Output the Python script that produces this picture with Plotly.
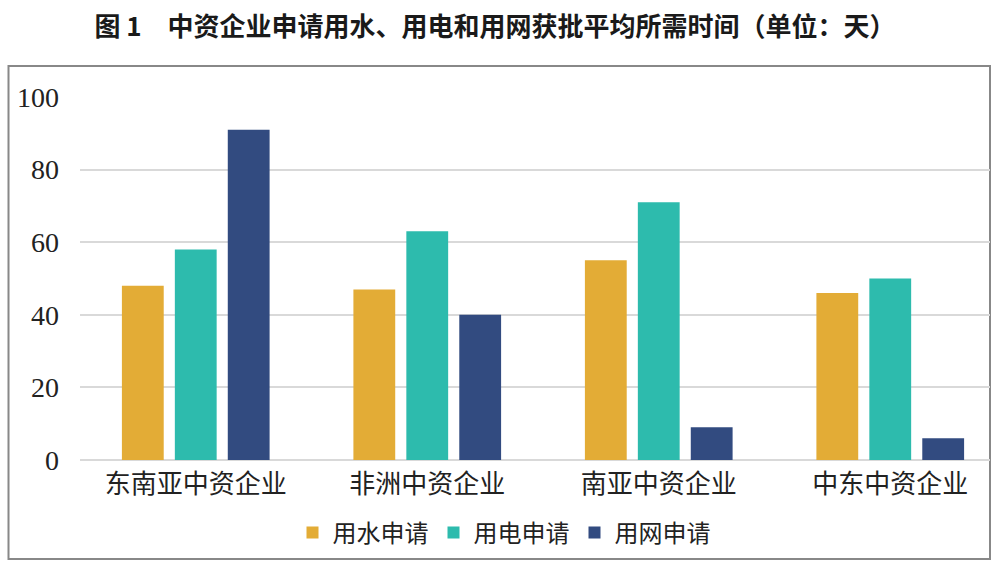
import plotly.graph_objects as go

categories = ["东南亚中资企业", "非洲中资企业", "南亚中资企业", "中东中资企业"]
water = [48, 47, 55, 46]
power = [58, 63, 71, 50]
network = [91, 40, 9, 6]
series_names = ["用水申请", "用电申请", "用网申请"]
colors = ["#E3AC36", "#2DBBAD", "#324B80"]
y_ticks = [0, 20, 40, 60, 80, 100]

CJK = "Noto Sans CJK SC"
SERIF = "Liberation Serif"

fig = go.Figure()
for name, vals, c in zip(series_names, [water, power, network], colors):
    fig.add_trace(go.Bar(x=categories, y=vals, name=name, marker=dict(color=c, line=dict(width=0))))

W, H = 1000, 569
L, R, T, B = 80, 10, 97, 109
pw, ph = W - L - R, H - T - B
slot = 231.5  # pixels per category

def px(x):
    return (x - L) / pw

def py(y):
    return (H - B - y) / ph

fig.update_layout(
    width=W, height=H,
    margin=dict(l=L, r=R, t=T, b=B),
    paper_bgcolor="white", plot_bgcolor="white",
    barmode="group", bargap=0.314, bargroupgap=0.21,
    title=dict(text="<b>图 1　中资企业申请用水、用电和用网获批平均所需时间（单位：天）</b>",
               x=0.495, xanchor="center", xref="container", y=1 - 27 / H, yanchor="middle",
               font=dict(family=CJK, size=26, color="#1a1a1a")),
    showlegend=True,
    legend=dict(orientation="h", x=px(504), xanchor="center", y=py(533), yanchor="middle",
                font=dict(family=CJK, size=24, color="#222222"), itemwidth=30,
                tracegroupgap=0, bgcolor="rgba(0,0,0,0)"),
    xaxis=dict(showgrid=False, showline=False, ticks="", ticklabelstandoff=6,
               range=[-0.5, -0.5 + pw / slot],
               tickfont=dict(family=CJK, size=26, color="#222222")),
    yaxis=dict(range=[0, 100], tickvals=y_ticks, showgrid=True, gridcolor="#d9d9d9", gridwidth=1.5,
               zeroline=True, zerolinecolor="#d9d9d9", zerolinewidth=1.5, showline=False,
               ticks="", ticklabelstandoff=20,
               tickfont=dict(family=SERIF, size=28, color="#222222")),
    shapes=[dict(type="rect", xref="paper", yref="paper",
                 x0=px(8.5), x1=px(990), y0=py(559), y1=py(66),
                 line=dict(color="#888888", width=2), layer="below")],
)

fig.write_html("out.html")
